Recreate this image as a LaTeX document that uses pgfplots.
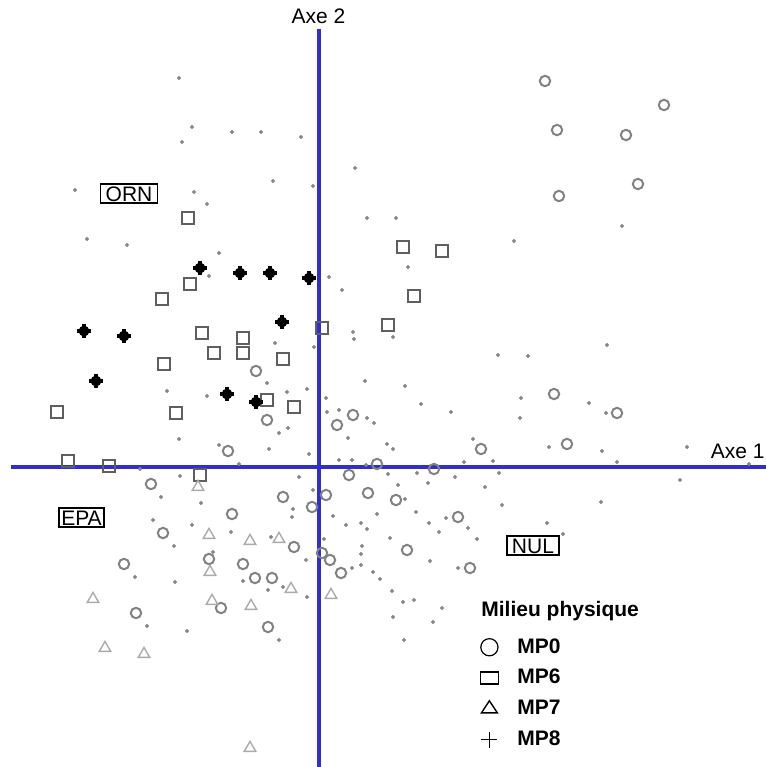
\documentclass[border=0pt]{standalone}
\usepackage{fontspec}
\setmainfont{Liberation Sans}
\usepackage{pgfplots}
\pgfplotsset{compat=1.18}

\definecolor{axisblue}{RGB}{50,46,205}
\definecolor{dotgray}{RGB}{135,135,135}
\definecolor{circgray}{RGB}{130,130,130}
\definecolor{sqgray}{RGB}{95,95,95}
\definecolor{trigray}{RGB}{170,170,170}

\begin{document}
\begin{tikzpicture}[font=\fontsize{10.5}{12.6}\selectfont]
\begin{axis}[
  width=383pt, height=383.5pt, scale only axis,
  xmin=0, xmax=766, ymin=0, ymax=767, y dir=reverse,
  hide axis,
  legend cell align=left,
  legend style={at={(axis cs:480,634)}, anchor=north west,
    draw=none, fill=none, inner sep=0pt,
    font=\fontsize{10.5}{12.6}\selectfont\bfseries,
    row sep=2.6pt, /tikz/column sep=7.5pt,
    nodes={inner sep=2pt, text depth=0.15em}},
]
\path (axis cs:0,0) rectangle (axis cs:766,767);

% legend images (symbols of the physical environment)
\addlegendimage{only marks, mark=o, mark size=4.3pt, black, line width=0.6pt}
\addlegendentry{MP0}
\addlegendimage{only marks, mark=square, mark size=3pt, mark options={xscale=1.5}, black, line width=0.7pt}
\addlegendentry{MP6}
\addlegendimage{only marks, mark=triangle, mark size=4.6pt, mark options={yscale=0.88}, black, line width=0.7pt}
\addlegendentry{MP7}
\addlegendimage{only marks, mark=+, mark size=4pt, black, line width=0.7pt}
\addlegendentry{MP8}

% factorial axes
\addplot[axisblue, line width=1.6pt, forget plot] coordinates {(319,29) (319,767)};
\addplot[axisblue, line width=1.6pt, forget plot] coordinates {(11,467) (766,467)};

% supplementary individuals (small dots)
\addplot[only marks, mark=*, mark size=0.8pt, dotgray, forget plot] coordinates {
(179,78) (192,127) (232,132) (182,142) (75,190) (194,192) (207,204) (87,239) (127,245) (219,253)
(261,132) (301,137) (273,181) (313,186) (355,168) (367,218) (396,218)
(622,226) (514,241)
(209,276) (167,391) (207,396) (179,439) (219,445) (140,469) (180,476) (239,464) (161,497) (201,503)
(408,267) (329,277) (342,290) (353,332) (354,339) (393,337) (275,343) (314,347) (498,355) (365,381)
(405,386) (267,383) (287,392) (307,389) (326,398) (421,404) (451,412) (327,412) (339,410) (367,418)
(374,423) (288,428) (279,433) (348,438) (387,444) (393,449) (269,449) (309,454) (473,439) (339,460)
(352,460) (366,465) (464,462) (493,461) (299,477) (388,474) (417,473) (428,483) (455,477) (499,473)
(485,487) (313,490) (398,485) (405,499) (502,505) (293,509)
(528,356) (607,345) (521,398) (589,403) (606,413) (520,418) (549,447) (602,451) (617,462) (687,447)
(749,464) (680,480) (601,502)
(153,520) (192,525) (231,532) (174,546) (213,552) (135,577) (175,582) (243,581) (147,626) (187,631)
(292,517) (333,516) (346,525) (361,523) (367,529) (377,514) (416,512) (429,523) (439,532) (446,518)
(468,528) (477,539) (271,537) (306,560) (324,539) (362,546) (361,554) (390,538) (430,561) (361,565)
(352,568) (373,572) (380,579) (283,587) (268,590) (307,597) (392,591) (403,602) (414,600) (442,608)
(458,568) (393,617) (433,622) (404,640) (279,640)
(547,523) (563,534)
};

% MP0
\addplot[only marks, mark=o, mark size=2.6pt, circgray, line width=1pt, forget plot] coordinates {
(545,81) (664,105) (557,130) (626,135) (638,184) (559,196)
(554,394) (617,413) (567,444) (481,449)
(256,371) (267,420) (353,415) (337,425) (228,451) (377,464) (434,469) (349,475) (151,484)
(283,497) (326,495) (368,493) (396,500) (312,507) (232,514) (163,533) (124,564) (209,559)
(243,564) (255,578) (272,578) (136,613) (221,608) (294,547) (322,553) (330,560) (341,573)
(407,550) (458,517) (470,568) (268,627)
};

% MP6
\addplot[only marks, mark=square, mark size=2.9pt, sqgray, line width=0.9pt, forget plot] coordinates {
(188,218) (403,247) (442,251) (190,284) (414,296) (162,299) (388,325) (322,328) (202,333)
(243,338) (214,353) (243,353) (283,359) (164,364) (267,400) (294,407) (57,412) (176,413)
(68,461) (109,466) (200,475)
};

% MP7
\addplot[only marks, mark=triangle, mark size=3.3pt, trigray, line width=0.7pt, forget plot] coordinates {
(198,487) (209,535) (250,541) (279,539) (210,572) (93,599) (212,601) (251,606) (291,589)
(331,595) (105,648) (144,654) (250,748)
};

% MP8
\addplot[only marks, mark=*, mark size=2.5pt, black, forget plot] coordinates {
(200,268) (240,273) (270,273) (309,278) (282,322) (84,331) (124,336) (96,381) (227,394) (256,402)
};
\addplot[only marks, mark=+, mark size=3.3pt, black, line width=1.6pt, forget plot] coordinates {
(200,268) (240,273) (270,273) (309,278) (282,322) (84,331) (124,336) (96,381) (227,394) (256,402)
};

% axis names and modality labels
\node[anchor=base, inner sep=0pt] at (axis cs:318.5,23) {Axe 2};
\node[anchor=base east, inner sep=0pt] at (axis cs:765,458) {Axe 1};
\node[draw, line width=0.75pt, fill=white, inner xsep=2.6pt, inner ysep=1.1pt, text height=7.5pt, text depth=0pt] at (axis cs:129,193.5) {ORN};
\node[draw, line width=0.75pt, fill=white, inner xsep=1.2pt, inner ysep=1.1pt, text height=7.5pt, text depth=0pt] at (axis cs:81.5,517.5) {EPA};
\node[draw, line width=0.75pt, fill=white, inner xsep=2.6pt, inner ysep=1.1pt, text height=7.5pt, text depth=0pt] at (axis cs:533,545.5) {NUL};
\node[anchor=base west, inner sep=0pt, font=\fontsize{10.5}{12.6}\selectfont\bfseries] at (axis cs:481,616) {Milieu physique};
\end{axis}
\end{tikzpicture}
\end{document}
